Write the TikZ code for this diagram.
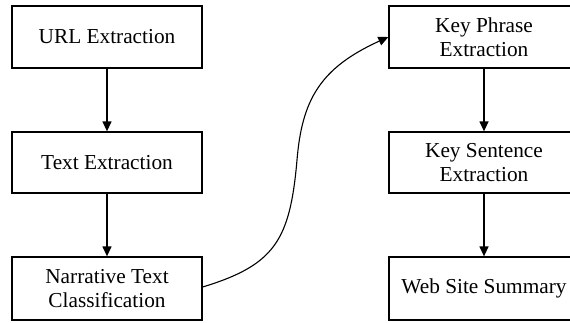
\documentclass[tikz,border=0pt]{standalone}
\usepackage{fontspec}
\setmainfont{Liberation Serif}
\usetikzlibrary{arrows.meta}
\begin{document}
\begin{tikzpicture}[x=1pt,y=-1pt,
  box/.style={draw,line width=1.3pt,minimum width=190pt,inner sep=0pt,align=center,
    font=\fontsize{21.3}{23.5}\selectfont},
  arr/.style={line width=1.3pt,-{Triangle[length=10pt,width=9pt]}}]
\useasboundingbox (0,0) rectangle (570,322);
\node[box,minimum height=62pt] (url) at (107,37) {URL Extraction};
\node[box,minimum height=61pt] (text) at (107,162.5) {Text Extraction};
\node[box,minimum height=63pt] (narr) at (107,288.5) {Narrative Text\\Classification};
\node[box,minimum height=62pt] (kp) at (484,37) {Key Phrase\\Extraction};
\node[box,minimum height=61pt] (ks) at (484,162.5) {Key Sentence\\Extraction};
\node[box,minimum height=63pt] (ws) at (484,288.5) {Web Site Summary};
\draw[arr] (url) -- (text);
\draw[arr] (text) -- (narr);
\draw[arr] (kp) -- (ks);
\draw[arr] (ks) -- (ws);
\coordinate (mid) at (297,160);
\draw[arr,line width=1.1pt] (narr.east) ++(0,-1.5) .. controls (275,265) and (290,240) .. (mid)
  .. controls (302,100) and (320,68) .. (kp.west);
\end{tikzpicture}
\end{document}
